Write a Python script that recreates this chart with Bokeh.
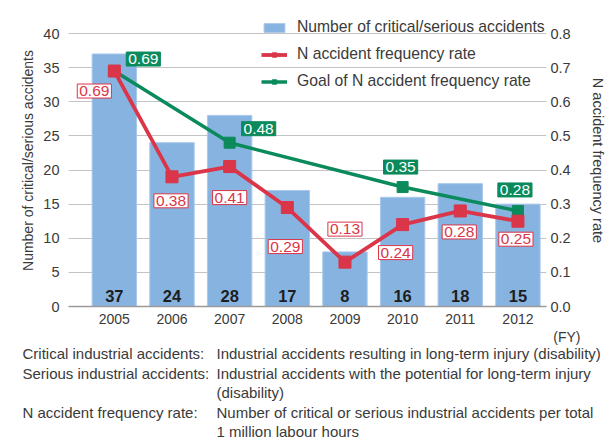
from bokeh.plotting import figure
from bokeh.layouts import column
from bokeh.models import (Range1d, LinearAxis, FixedTicker, Legend, LegendItem,
                          ColumnDataSource, Title)
from bokeh.embed import file_html
from bokeh.resources import INLINE
from bokeh.core.properties import value

# ---- data -------------------------------------------------------------
years = ["2005", "2006", "2007", "2008", "2009", "2010", "2011", "2012"]
accidents = [37, 24, 28, 17, 8, 16, 18, 15]
n_rate = [0.69, 0.38, 0.41, 0.29, 0.13, 0.24, 0.28, 0.25]
goal_years = ["2005", "2007", "2010", "2012"]
goal_rate = [0.69, 0.48, 0.35, 0.28]
left_ticks = [0, 5, 10, 15, 20, 25, 30, 35, 40]
right_ticks = [0.0, 0.1, 0.2, 0.3, 0.4, 0.5, 0.6, 0.7, 0.8]

note_heads = ["Critical industrial accidents:", "Serious industrial accidents:", "",
              "N accident frequency rate:", ""]
note_bodies = ["Industrial accidents resulting in long-term injury (disability)",
               "Industrial accidents with the potential for long-term injury",
               "(disability)",
               "Number of critical or serious industrial accidents per total",
               "1 million labour hours"]

# label nudges in screen pixels (dx, dy; dy > 0 is downward)
rate_dx = [-20, -1, 0, -2, 0, -7, -1, -2]
rate_dy = [20, 24, 31, 39, -33, 28, 21, 18]
goal_dx = [29, 29, -2, -3]
goal_dy = [-12, -14, -20, -21]

FONT = "Liberation Sans"
BLUE = "#87b3e0"
RED = "#da3549"
GREEN = "#0b8b5c"
GRID = "#c3c3c3"
TXT = "#3a3a3a"

X0, X_PX = -0.795, 58.5          # x value at the frame's left edge, px per year
Y_PX = 6.825                      # px per accident

xi = list(range(len(years)))
gxi = [years.index(y) for y in goal_years]

p = figure(width=608, height=345, output_backend="svg", toolbar_location=None,
           x_range=Range1d(X0, X0 + 485 / X_PX), y_range=Range1d(0, 292 / Y_PX),
           min_border_left=68, min_border_right=55, min_border_top=14,
           min_border_bottom=39)
p.frame_align = False
p.outline_line_color = None
p.background_fill_color = "white"
p.border_fill_color = "white"
p.extra_y_ranges = {"rate": Range1d(0, 292 / Y_PX * 0.02)}

# bars
bars = p.vbar(x=xi, top=accidents, width=0.77, fill_color=BLUE,
              line_color="#a9c8ec", line_width=1)

# counts inside the bars
p.text(x=xi, y=[0] * len(xi), text=[str(v) for v in accidents],
       text_font=value(FONT), text_font_size="16.5px", text_font_style="bold",
       text_color="#1e1e1e", text_align="center", text_baseline="middle",
       y_offset=-11)

# goal line
g_line = p.line(x=gxi, y=goal_rate, line_color=GREEN, line_width=3.5,
                y_range_name="rate")
g_pts = p.scatter(x=gxi, y=goal_rate, marker="square", size=11,
                  fill_color=GREEN, line_color=GREEN, y_range_name="rate")

# N accident frequency rate line
r_line = p.line(x=xi, y=n_rate, line_color=RED, line_width=3.8,
                y_range_name="rate")
r_pts = p.scatter(x=xi, y=n_rate, marker="square", size=12,
                  fill_color=RED, line_color=RED, y_range_name="rate")

# value tags
rsrc = ColumnDataSource(dict(x=xi, y=n_rate, t=["%.2f" % v for v in n_rate],
                             dx=rate_dx, dy=rate_dy))
p.text(x="x", y="y", text="t", x_offset="dx", y_offset="dy", source=rsrc,
       text_font=value(FONT), text_font_size="15.5px", text_color=RED,
       text_align="center", text_baseline="middle",
       background_fill_color="white", border_line_color=RED,
       border_line_width=1, padding=2, y_range_name="rate")

gsrc = ColumnDataSource(dict(x=gxi, y=goal_rate, t=["%.2f" % v for v in goal_rate],
                             dx=goal_dx, dy=goal_dy))
p.text(x="x", y="y", text="t", x_offset="dx", y_offset="dy", source=gsrc,
       text_font=value(FONT), text_font_size="15.5px", text_color="white",
       text_align="center", text_baseline="middle",
       background_fill_color=GREEN, border_line_color=GREEN,
       padding=2, y_range_name="rate")


def plain_axis(ax, size="14.5px"):
    ax.axis_line_color = None
    ax.major_tick_line_color = None
    ax.minor_tick_line_color = None
    ax.major_tick_out = 0
    ax.major_tick_in = 0
    ax.minor_tick_out = 0
    ax.minor_tick_in = 0
    ax.major_label_text_font = FONT
    ax.major_label_text_font_size = size
    ax.major_label_text_color = TXT
    ax.axis_label_text_font = FONT
    ax.axis_label_text_font_style = "normal"
    ax.axis_label_text_color = TXT


# axes
xax = p.xaxis[0]
plain_axis(xax, "14px")
xax.ticker = FixedTicker(ticks=xi)
xax.major_label_overrides = {i: y for i, y in zip(xi, years)}
xax.axis_line_color = "#9a9a9a"
xax.axis_line_width = 1.5
xax.major_label_standoff = 7

yax = p.yaxis[0]
plain_axis(yax)
yax.ticker = FixedTicker(ticks=left_ticks)
yax.major_label_standoff = 9
yax.axis_label = "Number of critical/serious accidents"
yax.axis_label_text_font_size = "14px"
yax.axis_label_standoff = 4

raxis = LinearAxis(y_range_name="rate", ticker=FixedTicker(ticks=right_ticks))
plain_axis(raxis)
raxis.major_label_overrides = {v: "%.1f" % v for v in right_ticks}
raxis.major_label_standoff = 4
raxis.axis_label = "N accident frequency rate"
raxis.axis_label_text_font_size = "14.5px"
raxis.axis_label_standoff = 16
p.add_layout(raxis, "right")

p.xgrid.grid_line_color = None
p.ygrid.grid_line_color = GRID
p.ygrid.grid_line_width = 1

# fiscal-year marker under the last category
p.add_layout(Title(text="(FY)", align="right", offset=-34, standoff=0,
                   text_font=FONT, text_font_size="14px", text_line_height=0.6,
                   text_font_style="normal", text_color=TXT), "below")

# legend
legend = Legend(items=[
    LegendItem(label="Number of critical/serious accidents", renderers=[bars]),
    LegendItem(label="N accident frequency rate", renderers=[r_line, r_pts]),
    LegendItem(label="Goal of N accident frequency rate", renderers=[g_line, g_pts]),
], location=(193, 216))
legend.background_fill_alpha = 0
legend.border_line_color = None
legend.padding = 0
legend.margin = 0
legend.spacing = 9
legend.glyph_width = 26
legend.glyph_height = 11
legend.label_height = 16
legend.label_standoff = 10
legend.label_text_font = FONT
legend.label_text_font_size = "15.7px"
legend.label_text_color = TXT
p.add_layout(legend, "center")

# ---- definitions under the chart -------------------------------------
NOTE_H = 94
n = figure(width=608, height=NOTE_H, output_backend="svg", toolbar_location=None,
           x_range=Range1d(0, 608), y_range=Range1d(NOTE_H, 0),
           min_border=0)
n.frame_align = False
n.axis.visible = False
n.grid.visible = False
n.outline_line_color = None
n.background_fill_color = "white"
n.border_fill_color = "white"

row_y = [8, 28, 47, 67, 86]
n.text(x=[22] * len(note_heads), y=row_y, text=note_heads,
       text_font=value(FONT), text_font_size="15px", text_color=TXT,
       text_align="left", text_baseline="middle")
n.text(x=[216] * len(note_bodies), y=row_y, text=note_bodies,
       text_font=value(FONT), text_font_size="15px", text_color=TXT,
       text_align="left", text_baseline="middle")

layout = column(p, n, spacing=0)
open("out.html", "w").write(file_html(layout, INLINE))
